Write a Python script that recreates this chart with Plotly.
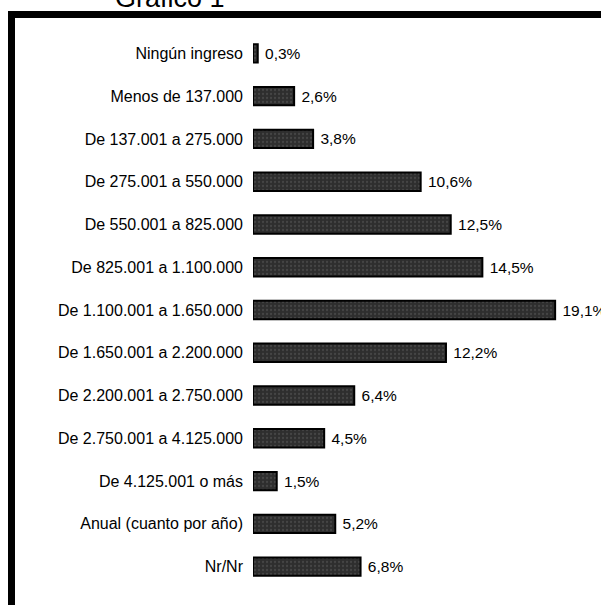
import plotly.graph_objects as go

categories = [
    "Ningún ingreso",
    "Menos de 137.000",
    "De 137.001 a 275.000",
    "De 275.001 a 550.000",
    "De 550.001 a 825.000",
    "De 825.001 a 1.100.000",
    "De 1.100.001 a 1.650.000",
    "De 1.650.001 a 2.200.000",
    "De 2.200.001 a 2.750.000",
    "De 2.750.001 a 4.125.000",
    "De 4.125.001 o más",
    "Anual (cuanto por año)",
    "Nr/Nr",
]
values = [0.3, 2.6, 3.8, 10.6, 12.5, 14.5, 19.1, 12.2, 6.4, 4.5, 1.5, 5.2, 6.8]
labels = ["\u00a0" + f"{v:.1f}".replace(".", ",") + "%" for v in values]
title_text = "Gráfico 1"

W, H = 601, 605
ML, MR, MT, MB = 253, 0, 32, 17
PW = W - ML - MR
PH = H - MT - MB

def px_x(p):
    return (p - ML) / PW

def px_y(p):
    return (H - MB - p) / PH

FONT = "Liberation Sans, Arial, sans-serif"

fig = go.Figure(
    go.Bar(
        x=values,
        y=categories,
        orientation="h",
        text=labels,
        textposition="outside",
        constraintext="none",
        cliponaxis=False,
        textfont=dict(family=FONT, size=15.5, color="black"),
        marker=dict(
            color="#2e2e2e",
            line=dict(color="black", width=2),
            pattern=dict(shape=".", fgcolor="#5c5c5c", bgcolor="#2e2e2e", size=4, solidity=0.25),
        ),
        hoverinfo="skip",
    )
)

fig.update_layout(
    width=W,
    height=H,
    margin=dict(l=ML, r=MR, t=MT, b=MB),
    paper_bgcolor="white",
    plot_bgcolor="white",
    bargap=0.57,
    showlegend=False,
    font=dict(family=FONT, size=15, color="black"),
    xaxis=dict(range=[0, 22], visible=False, fixedrange=True),
    yaxis=dict(
        categoryorder="array",
        categoryarray=categories,
        autorange="reversed",
        showgrid=False,
        zeroline=False,
        showline=False,
        ticks="",
        ticklabelstandoff=9,
        fixedrange=True,
        tickfont=dict(family=FONT, size=16, color="black"),
    ),
    shapes=[
        dict(
            type="rect",
            xref="paper",
            yref="paper",
            x0=px_x(11.5),
            x1=px_x(640),
            y0=px_y(640),
            y1=px_y(14.5),
            line=dict(color="black", width=7),
            fillcolor="rgba(0,0,0,0)",
            layer="above",
        )
    ],
    annotations=[
        dict(
            text=title_text,
            xref="paper",
            yref="paper",
            x=px_x(170),
            y=px_y(15),
            xanchor="center",
            yanchor="bottom",
            showarrow=False,
            font=dict(family=FONT, size=27, color="black"),
        )
    ],
)

fig.write_html(
    "out.html",
    config={"displayModeBar": False, "staticPlot": True},
    post_script="document.body.style.margin='0';document.body.style.overflow='hidden';",
)
